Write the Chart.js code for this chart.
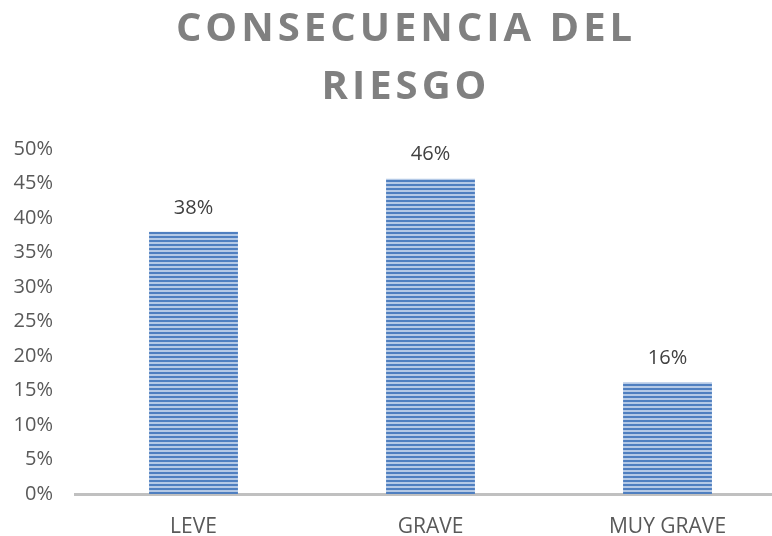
<!DOCTYPE html>
<html>
<head>
<meta charset="utf-8">
<script src="https://cdn.jsdelivr.net/npm/chart.js@4"></script>
<style>
  html, body { margin: 0; padding: 0; background: #fff; overflow: hidden; }
  #wrap { width: 772px; height: 536px; overflow: hidden; }
</style>
</head>
<body>
<div id="wrap"><canvas id="myChart" width="790" height="536"></canvas></div>
<script>
/* Data */
const categories = ['LEVE', 'GRAVE', 'MUY GRAVE'];
const values = [38, 45.7, 16.2];
const titleLines = ['CONSECUENCIA DEL', 'RIESGO'];

/* striped fill like the original bars */
function stripes(){
  const c = document.createElement('canvas');
  c.width = 8; c.height = 4;
  const g = c.getContext('2d');
  g.fillStyle = '#b4c9e6';
  g.fillRect(0, 0, 8, 4);
  g.fillStyle = '#4f7fc0';
  g.fillRect(0, 0, 8, 2);
  return g.createPattern(c, 'repeat');
}

const titlePlugin = {
  id: 'bigTitle',
  afterDraw: chart => {
    const ctx = chart.ctx;
    ctx.save();
    ctx.font = 'bold 40px "Open Sans"';
    ctx.fillStyle = '#808080';
    ctx.textAlign = 'center';
    ctx.textBaseline = 'middle';
    ctx.letterSpacing = '4px';
    ctx.fillText(titleLines[0], 406, 30);
    ctx.fillText(titleLines[1], 406, 88);
    ctx.restore();
  }
};

const labelPlugin = {
  id: 'valueLabels',
  afterDatasetsDraw: chart => {
    const ctx = chart.ctx;
    const meta = chart.getDatasetMeta(0);
    ctx.save();
    ctx.font = '20px "Open Sans"';
    ctx.fillStyle = '#404040';
    ctx.textAlign = 'center';
    ctx.textBaseline = 'middle';
    meta.data.forEach((bar, i) => {
      ctx.fillText(Math.round(values[i]) + '%', bar.x, bar.y - 24);
    });
    ctx.restore();
  }
};

const ctx = document.getElementById('myChart');
const myChart = new Chart(ctx, {
  type: 'bar',
  plugins: [titlePlugin, labelPlugin],
  data: {
    labels: categories,
    datasets: [{
      data: values,
      backgroundColor: stripes(),
      borderWidth: 0,
      barPercentage: 0.75,
      categoryPercentage: 0.5
    }]
  },
  options: {
    responsive: false,
    animation: false,
    events: [],
    layout: { padding: { top: 149, right: 4, left: 0, bottom: 0 } },
    plugins: { legend: false, tooltip: { enabled: false } },
    scales: {
      y: {
        min: 0,
        max: 50,
        afterFit: s => { s.width = 75; },
        grid: { display: false },
        border: { display: false },
        ticks: {
          stepSize: 5,
          padding: 14,
          color: '#595959',
          font: { family: '"Open Sans"', size: 20 },
          callback: v => v + '%'
        }
      },
      x: {
        afterFit: s => { s.height = 42; },
        grid: { display: false },
        border: { display: true, color: '#c0c0c0', width: 3 },
        ticks: {
          padding: 12,
          color: '#595959',
          font: { family: '"Open Sans"', size: 21 }
        }
      }
    }
  }
});
</script>
</body>
</html>
